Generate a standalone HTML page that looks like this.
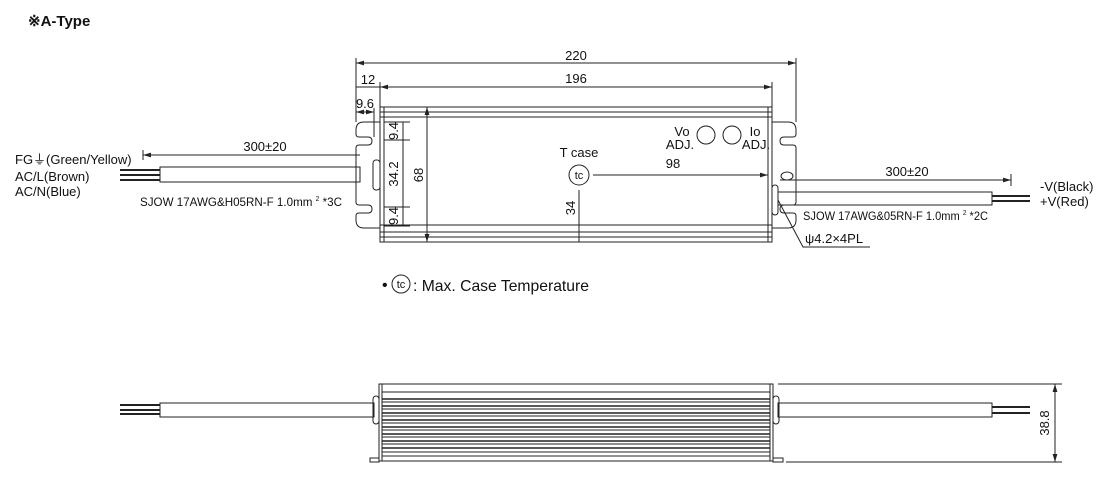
<!DOCTYPE html>
<html><head><meta charset="utf-8"><style>
html,body{margin:0;padding:0;background:#fff;}
svg{display:block;}
text{font-family:"Liberation Sans",sans-serif;fill:#111;}
</style></head><body>
<svg width="1100" height="488" viewBox="0 0 1100 488" xmlns="http://www.w3.org/2000/svg">
<defs>
<marker id="ar" viewBox="0 0 10 6" refX="10" refY="3" markerWidth="8" markerHeight="5" orient="auto-start-reverse"><path d="M0,0 L10,3 L0,6 z" fill="#222"/></marker>
</defs>
<text x="28" y="26" font-size="15" font-weight="bold">※A-Type</text>

<g stroke="#222" fill="none" stroke-width="1">
<path d="M364,122 H788 Q796,122 796,130 V134 Q796,137 793,137 H784 Q780,137 780,141 Q780,145 784,145 H793 Q796,145 796,148 V202 Q796,205 793,205 H784 Q780,205 780,209 Q780,213 784,213 H793 Q796,213 796,216 V220 Q796,228 788,228 H364 Q356,228 356,220 V216 Q356,213 359,213 H368 Q372,213 372,209 Q372,205 368,205 H359 Q356,205 356,202 V148 Q356,145 359,145 H368 Q372,145 372,141 Q372,137 368,137 H359 Q356,137 356,134 V130 Q356,122 364,122 Z"/>
<rect x="380" y="107" width="392" height="135" fill="#fff"/>
<line x1="380" y1="112" x2="772" y2="112"/>
<line x1="380" y1="117" x2="772" y2="117"/>
<line x1="380" y1="225" x2="772" y2="225"/>
<line x1="380" y1="232" x2="772" y2="232"/>
<line x1="380" y1="237" x2="772" y2="237"/>
<line x1="384" y1="107" x2="384" y2="242"/>
<line x1="768" y1="107" x2="768" y2="242"/>
<rect x="373" y="160" width="7" height="30" rx="3"/>
<rect x="772" y="185" width="6" height="30" rx="3"/>
<ellipse cx="787" cy="176" rx="6" ry="4"/>
<rect x="160" y="167" width="200" height="15"/>
<line x1="120" y1="170" x2="160" y2="170" stroke-width="2"/>
<line x1="120" y1="175" x2="160" y2="175" stroke-width="2"/>
<line x1="120" y1="180" x2="160" y2="180" stroke-width="2"/>
<rect x="778" y="192" width="214" height="13"/>
<line x1="992" y1="196" x2="1030" y2="196" stroke-width="2"/>
<line x1="992" y1="201" x2="1030" y2="201" stroke-width="2"/>

<line x1="356" y1="58" x2="356" y2="122"/>
<line x1="796" y1="58" x2="796" y2="122"/>
<line x1="356" y1="63" x2="796" y2="63" marker-start="url(#ar)" marker-end="url(#ar)"/>
<line x1="380" y1="82" x2="380" y2="107"/>
<line x1="772" y1="82" x2="772" y2="107"/>
<line x1="380" y1="87" x2="772" y2="87" marker-start="url(#ar)" marker-end="url(#ar)"/>
<line x1="356" y1="87" x2="380" y2="87"/>
<line x1="374" y1="108" x2="374" y2="137"/>
<line x1="356" y1="112" x2="374" y2="112" marker-start="url(#ar)" marker-end="url(#ar)"/>
<line x1="384" y1="122" x2="410" y2="122"/>
<line x1="384" y1="140" x2="410" y2="140"/>
<line x1="384" y1="207" x2="410" y2="207"/>
<line x1="384" y1="226" x2="410" y2="226"/>
<line x1="403" y1="122" x2="403" y2="226"/>
<line x1="427" y1="107" x2="427" y2="242" marker-start="url(#ar)" marker-end="url(#ar)"/>
<circle cx="579" cy="175" r="10"/>
<line x1="593" y1="175" x2="768" y2="175" marker-end="url(#ar)"/>
<line x1="579" y1="190" x2="579" y2="242"/>
<circle cx="706" cy="135" r="9"/>
<circle cx="732" cy="135" r="9"/>
<line x1="143" y1="150" x2="143" y2="160"/>
<line x1="143" y1="155" x2="360" y2="155" marker-start="url(#ar)"/>
<line x1="1011" y1="174" x2="1011" y2="186"/>
<line x1="780" y1="180" x2="1011" y2="180" marker-end="url(#ar)"/>
<polyline points="778,200 803,247 870,247"/>
</g>

<g font-size="13">
<text x="576" y="60" text-anchor="middle">220</text>
<text x="576" y="83" text-anchor="middle">196</text>
<text x="368" y="84" text-anchor="middle">12</text>
<text x="365" y="108" text-anchor="middle">9.6</text>
<text transform="translate(398,131) rotate(-90)" text-anchor="middle">9.4</text>
<text transform="translate(398,174) rotate(-90)" text-anchor="middle">34.2</text>
<text transform="translate(398,216) rotate(-90)" text-anchor="middle">9.4</text>
<text transform="translate(423,175) rotate(-90)" text-anchor="middle">68</text>
<text transform="translate(575,208) rotate(-90)" text-anchor="middle">34</text>
<text x="579" y="157" text-anchor="middle">T case</text>
<text x="579" y="179" text-anchor="middle" font-size="11">tc</text>
<text x="673" y="168" text-anchor="middle">98</text>
<text x="682" y="136" text-anchor="middle">Vo</text>
<text x="680" y="149" text-anchor="middle">ADJ.</text>
<text x="755" y="136" text-anchor="middle">Io</text>
<text x="756" y="149" text-anchor="middle">ADJ.</text>
<text x="265" y="151" text-anchor="middle">300±20</text>
<text x="907" y="176" text-anchor="middle">300±20</text>
<text x="15" y="164">FG⏚(Green/Yellow)</text>
<text x="15" y="181">AC/L(Brown)</text>
<text x="15" y="196">AC/N(Blue)</text>
<text x="140" y="206" font-size="12" textLength="202" lengthAdjust="spacingAndGlyphs">SJOW 17AWG&amp;H05RN-F 1.0mm <tspan font-size="7" dy="-5">2</tspan><tspan dy="5"> *3C</tspan></text>
<text x="803" y="220" font-size="12" textLength="185" lengthAdjust="spacingAndGlyphs">SJOW 17AWG&amp;05RN-F 1.0mm <tspan font-size="7" dy="-5">2</tspan><tspan dy="5"> *2C</tspan></text>
<text x="805" y="243">ψ4.2×4PL</text>
<text x="1040" y="191">-V(Black)</text>
<text x="1040" y="206">+V(Red)</text>
</g>
<g font-size="16">
<text x="382" y="290">•</text>
<circle cx="401" cy="284" r="9" fill="none" stroke="#222"/>
<text x="401" y="288" font-size="11" text-anchor="middle">tc</text>
<text x="413" y="291" textLength="176" lengthAdjust="spacingAndGlyphs">: Max. Case Temperature</text>
</g>

<g stroke="#222" fill="none" stroke-width="1">
<rect x="160" y="403" width="214" height="14"/>
<line x1="120" y1="405" x2="160" y2="405" stroke-width="2"/>
<line x1="120" y1="410" x2="160" y2="410" stroke-width="2"/>
<line x1="120" y1="414" x2="160" y2="414" stroke-width="2"/>
<rect x="778" y="403" width="214" height="14"/>
<line x1="992" y1="407" x2="1030" y2="407" stroke-width="2"/>
<line x1="992" y1="413" x2="1030" y2="413" stroke-width="2"/>
<rect x="373" y="396" width="6" height="28" rx="3"/>
<rect x="773" y="396" width="6" height="28" rx="3"/>
<rect x="370" y="458" width="9" height="4"/>
<rect x="773" y="458" width="10" height="4"/>
<rect x="379" y="384" width="394" height="77" fill="#fff"/>
<line x1="382" y1="384" x2="382" y2="461"/>
<line x1="770" y1="384" x2="770" y2="461"/>
<line x1="382" y1="392" x2="770" y2="392"/>
</g>
<g stroke="#222">
<line x1="382" y1="399" x2="770" y2="399" stroke-width="1.5"/>
<line x1="382" y1="402" x2="770" y2="402"/>
<line x1="382" y1="406" x2="770" y2="406" stroke-width="1.5"/>
<line x1="382" y1="409" x2="770" y2="409"/>
<line x1="382" y1="413" x2="770" y2="413" stroke-width="1.5"/>
<line x1="382" y1="416" x2="770" y2="416"/>
<line x1="382" y1="420" x2="770" y2="420" stroke-width="1.5"/>
<line x1="382" y1="423" x2="770" y2="423"/>
<line x1="382" y1="427" x2="770" y2="427" stroke-width="1.5"/>
<line x1="382" y1="430" x2="770" y2="430"/>
<line x1="382" y1="434" x2="770" y2="434" stroke-width="1.5"/>
<line x1="382" y1="437" x2="770" y2="437"/>
<line x1="382" y1="441" x2="770" y2="441" stroke-width="1.5"/>
<line x1="382" y1="444" x2="770" y2="444"/>
<line x1="382" y1="448" x2="770" y2="448" stroke-width="1.5"/>
<line x1="382" y1="452" x2="770" y2="452"/>
<line x1="382" y1="456" x2="770" y2="456"/>
<line x1="778" y1="384" x2="1062" y2="384"/>
<line x1="786" y1="462" x2="1062" y2="462"/>
<line x1="1055" y1="384" x2="1055" y2="462" marker-start="url(#ar)" marker-end="url(#ar)"/>
</g>
<text transform="translate(1049,423) rotate(-90)" text-anchor="middle" font-size="13">38.8</text>
</svg>
</body></html>
